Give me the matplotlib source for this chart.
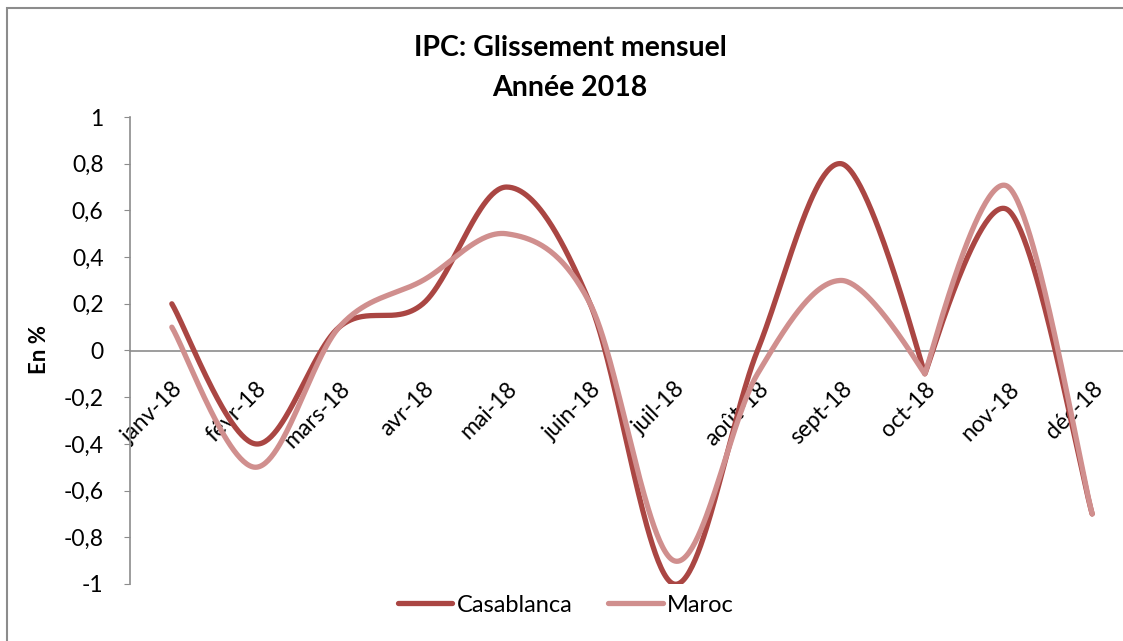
import numpy as np
import matplotlib
matplotlib.use("Agg")
import matplotlib.pyplot as plt
from matplotlib.ticker import FuncFormatter, MultipleLocator
from matplotlib.patches import Rectangle

plt.rcParams['font.family'] = ['Lato', 'DejaVu Sans']

months = ["janv-18", "févr-18", "mars-18", "avr-18", "mai-18", "juin-18",
          "juil-18", "août-18", "sept-18", "oct-18", "nov-18", "déc-18"]
casablanca = [0.2, -0.4, 0.1, 0.2, 0.7, 0.2, -1.0, 0.0, 0.8, -0.1, 0.6, -0.7]
maroc = [0.1, -0.5, 0.1, 0.3, 0.5, 0.2, -0.9, -0.1, 0.3, -0.1, 0.7, -0.7]
title1 = "IPC: Glissement mensuel"
title2 = "Année 2018"
ylabel = "En %"

# rendering style: the smoothed line shows a sharp corner at this category
sharp_idx = {9}

def smooth(xs, ys, n=60, sharp=()):
    xs = np.asarray(xs, float); ys = np.asarray(ys, float)
    P = np.column_stack([xs, ys])
    P = np.vstack([P[0], P, P[-1]])
    out = []
    for i in range(1, len(P) - 2):
        p0, p1, p2, p3 = P[i - 1], P[i], P[i + 1], P[i + 2]
        c1 = p1 + (p2 - p0) / 6.0
        c2 = p2 - (p3 - p1) / 6.0
        if (i - 1) in sharp:
            c1 = p1 + (p2 - p1) * 0.05
        if i in sharp:
            c2 = p2 - (p2 - p1) * 0.05
        t = np.linspace(0, 1, n)[:, None]
        seg = ((1 - t) ** 3) * p1 + 3 * ((1 - t) ** 2) * t * c1 + 3 * (1 - t) * t ** 2 * c2 + t ** 3 * p2
        out.append(seg if i == 1 else seg[1:])
    s = np.vstack(out)
    return s[:, 0], s[:, 1]

W, H = 1123, 641
fig = plt.figure(figsize=(W / 100, H / 100), dpi=100)
fig.patches.append(Rectangle((7 / W, -0.1), 1.2, 1.1 - 8 / H, transform=fig.transFigure,
                             fill=False, edgecolor='#8c8c8c', linewidth=1.5))

left, right, top, bottom = 130, 1134, 117, 584
ax = fig.add_axes([left / W, (H - bottom) / H, (right - left) / W, (bottom - top) / H])

x = np.arange(len(months))
c_col = '#AA4643'
m_col = '#D08F8E'
xs, ys = smooth(x, casablanca, sharp=sharp_idx)
ax.plot(xs, ys, color=c_col, lw=3.8, solid_capstyle='round', label='Casablanca', zorder=3)
xs, ys = smooth(x, maroc, sharp=sharp_idx)
ax.plot(xs, ys, color=m_col, lw=3.8, solid_capstyle='round', label='Maroc', zorder=4)

ax.set_xlim(-0.5, len(months) - 0.5)
ax.set_ylim(-1, 1)
ax.yaxis.set_major_locator(MultipleLocator(0.2))
ax.yaxis.set_major_formatter(FuncFormatter(lambda v, p: ('%g' % round(v, 1)).replace('.', ',') if abs(v) > 1e-9 else '0'))

for s in ['top', 'right']:
    ax.spines[s].set_visible(False)
ax.spines['left'].set_color('#8c8c8c')
ax.spines['bottom'].set_color('#8c8c8c')
ax.spines['bottom'].set_position(('data', 0))
ax.spines['left'].set_linewidth(1.2)
ax.spines['bottom'].set_linewidth(1.2)

ax.set_xticks(x)
ax.set_xticklabels(months, rotation=45, ha='right', va='top', rotation_mode='anchor', fontsize=16.5)
ax.tick_params(axis='x', length=0, pad=20)
ax.tick_params(axis='y', length=4, color='#8c8c8c', labelsize=16.5, pad=15)

fig.text(40 / W, 1 - 350 / H, ylabel, rotation=90, ha='center', va='center', fontsize=16, fontweight='bold')
fig.text(570 / W, 1 - 48 / H, title1, ha='center', va='center', fontsize=20.5, fontweight='bold')
fig.text(570 / W, 1 - 88 / H, title2, ha='center', va='center', fontsize=20.5, fontweight='bold')

leg = fig.legend(loc='center', bbox_to_anchor=(566 / W, 1 - 605 / H), ncol=2, frameon=False,
                 fontsize=17, handlelength=2.3, columnspacing=1.5, handletextpad=0.2)

fig.savefig("out.png", dpi=100)
